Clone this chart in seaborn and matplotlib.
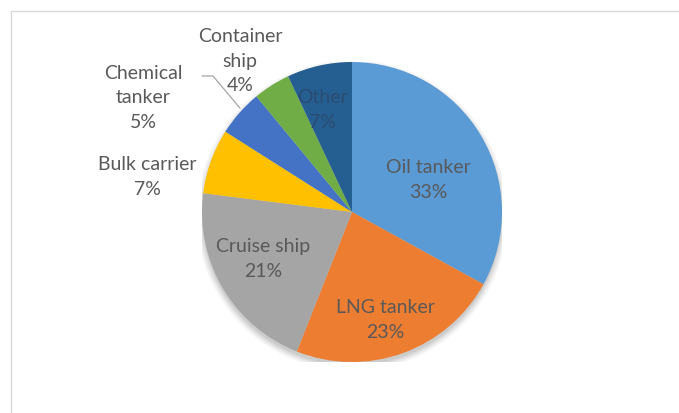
import matplotlib
matplotlib.use("Agg")
import matplotlib.pyplot as plt
from matplotlib.patches import Rectangle, Circle
import seaborn as sns

# Share of incidents by vessel type (%)
categories = ["Oil tanker", "LNG tanker", "Cruise ship", "Bulk carrier",
              "Chemical\ntanker", "Container\nship", "Other"]
shares = [33, 23, 21, 7, 5, 4, 7]
colors = ["#5B9BD5", "#ED7D31", "#A5A5A5", "#FFC000",
          "#4472C4", "#70AD47", "#255E91"]

sns.set_theme(style="white")
plt.rcParams["font.family"] = ["Lato", "DejaVu Sans"]

fig = plt.figure(figsize=(6.79, 4.14), dpi=100)
ax = fig.add_axes([202 / 679, 51 / 414, 300 / 679, 300 / 414])

# soft drop shadow under the pie
for i, a in enumerate([0.05, 0.06, 0.08, 0.10]):
    r = 1.0 + 0.012 * (3 - i)
    ax.add_patch(Circle((0, -0.025), r, color="#404040", alpha=a, lw=0, zorder=0))

wedges, _ = ax.pie(shares, colors=sns.color_palette(colors), startangle=90,
                   counterclock=False, radius=1.0,
                   wedgeprops=dict(linewidth=0, zorder=1))

ax.set_xlim(-1, 1)
ax.set_ylim(-1, 1)
ax.set_aspect("equal")
ax.axis("off")

# label anchor positions in pie-radius units
label_pos = [(0.507, 0.22), (0.22, -0.713), (-0.593, -0.307), (-1.367, 0.24),
             (-1.393, 0.767), (-0.747, 1.013), (-0.2, 0.687)]
text_colors = ["#595959"] * 6 + ["#2B4C72"]
for name, val, (x, y), tc in zip(categories, shares, label_pos, text_colors):
    ax.text(x, y, f"{name}\n{val}%", ha="center", va="center", fontsize=14,
            color=tc, linespacing=1.55, clip_on=False, zorder=3)

# leader line for the chemical tanker label
ax.plot([-1.0, -0.927, -0.747], [0.907, 0.907, 0.693], color="#A6A6A6",
        lw=0.9, clip_on=False, zorder=3)

# chart-area frame
fig.add_artist(Rectangle((11 / 679, -0.1), 2, (414 - 12) / 414 + 0.1,
                         transform=fig.transFigure, fill=False,
                         ec="#D9D9D9", lw=1))

fig.savefig("out.png", dpi=100, facecolor="white")
